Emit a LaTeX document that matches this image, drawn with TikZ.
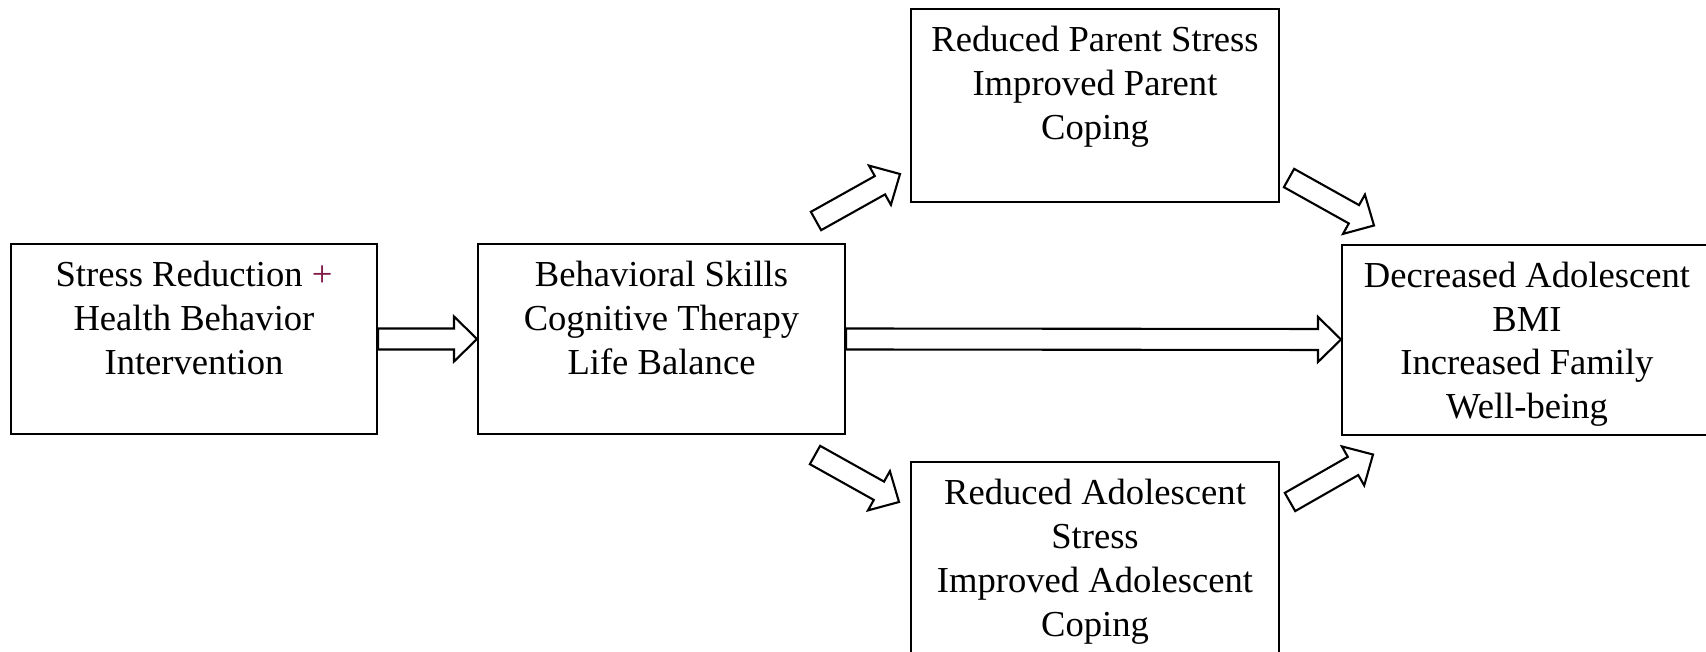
\documentclass[tikz,border=0pt]{standalone}
\usepackage{fontspec}
\setmainfont{Liberation Serif}
\usetikzlibrary{calc}

\definecolor{plusred}{RGB}{128,24,72}

% fixed height for the first line of every box text, so all boxes share one baseline
\newcommand\firststrut{\rule{0pt}{15pt}}

% hollow block arrow from tail point #1 to tip point #2
\newcommand\shafthalf{5.25pt}
\newcommand\headhalf{11.25pt}
\newcommand\headlen{11.5pt}
\newcommand\fatarrow[2]{%
  \coordinate (fa-neck) at ($(#2)!\headlen!(#1)$);
  \draw[arrowline]
    ($(#1)!\shafthalf!90:(#2)$) --
    ($(fa-neck)!\shafthalf!90:(#2)$) --
    ($(fa-neck)!\headhalf!90:(#2)$) --
    (#2) --
    ($(fa-neck)!\headhalf!-90:(#2)$) --
    ($(fa-neck)!\shafthalf!-90:(#2)$) --
    ($(#1)!\shafthalf!-90:(#2)$) -- cycle;
}

\begin{document}
\begin{tikzpicture}[x=0.5pt,y=-0.5pt,
  box/.style={draw=black, line width=1pt, fill=white, minimum width=184pt,
              minimum height=95pt, inner sep=0pt},
  boxtext/.style={anchor=north, align=center, inner sep=0pt,
              font=\fontsize{18.3pt}{21.85pt}\selectfont},
  arrowline/.style={draw=black, line width=1.05pt, line join=miter, fill=white}]

\fill[white] (0,0) rectangle (1706,652);
\useasboundingbox (0,0) rectangle (1706,652);
\clip (0,0) rectangle (1706,652);

% boxes
\node[box, minimum width=183pt] (b1) at (194,339) {};
\node[box, minimum width=183.5pt] (b2) at (661.5,339) {};
\node[box, minimum width=184pt, minimum height=96.5pt] (b3) at (1095,105.5) {};
\node[box, minimum width=184pt, minimum height=110pt] (b4) at (1095,572) {};
\node[box, minimum width=185pt] (b5) at (1527,339.5) {};

% box texts
\node[boxtext] (t1) at ($(b1.north)+(0,-6.75pt)$)
  {\firststrut Stress Reduction {\color{plusred}+}\\Health Behavior\\Intervention};
\node[boxtext] (t2) at ($(b2.north)+(0,-6.75pt)$)
  {\firststrut Behavioral Skills\\Cognitive Therapy\\Life Balance};
\node[boxtext] (t3) at ($(b3.north)+(0,-6.75pt)$)
  {\firststrut Reduced Parent Stress\\Improved Parent\\Coping};
\node[boxtext] (t4) at ($(b4.north)+(0,-6.75pt)$)
  {\firststrut Reduced Adolescent\\Stress\\Improved Adolescent\\Coping};
\node[boxtext] (t5) at ($(b5.north)+(0,-6.75pt)$)
  {\firststrut Decreased Adolescent\\BMI\\Increased Family\\Well-being};

% arrow ends between boxes
\coordinate (s23) at ($(b2.north east)+(-30,-22)$);
\coordinate (e23) at ($(b3.south west)+(-10,-29)$);
\coordinate (s24) at ($(b2.south east)+(-31,20)$);
\coordinate (e24) at ($(b4.north west)+(-11,41)$);
\coordinate (s35) at ($(b3.south east)+(9,-25)$);
\coordinate (e35) at ($(b5.north west)+(33,-18)$);
\coordinate (s45) at ($(b4.north east)+(10,41)$);
\coordinate (e45) at ($(b5.south west)+(32,19)$);

% block arrows
\fatarrow{b1.east}{b2.west}
\fatarrow{b2.east}{b5.west}
\fatarrow{s23}{e23}
\fatarrow{s24}{e24}
\fatarrow{s35}{e35}
\fatarrow{s45}{e45}

\end{tikzpicture}
\end{document}
